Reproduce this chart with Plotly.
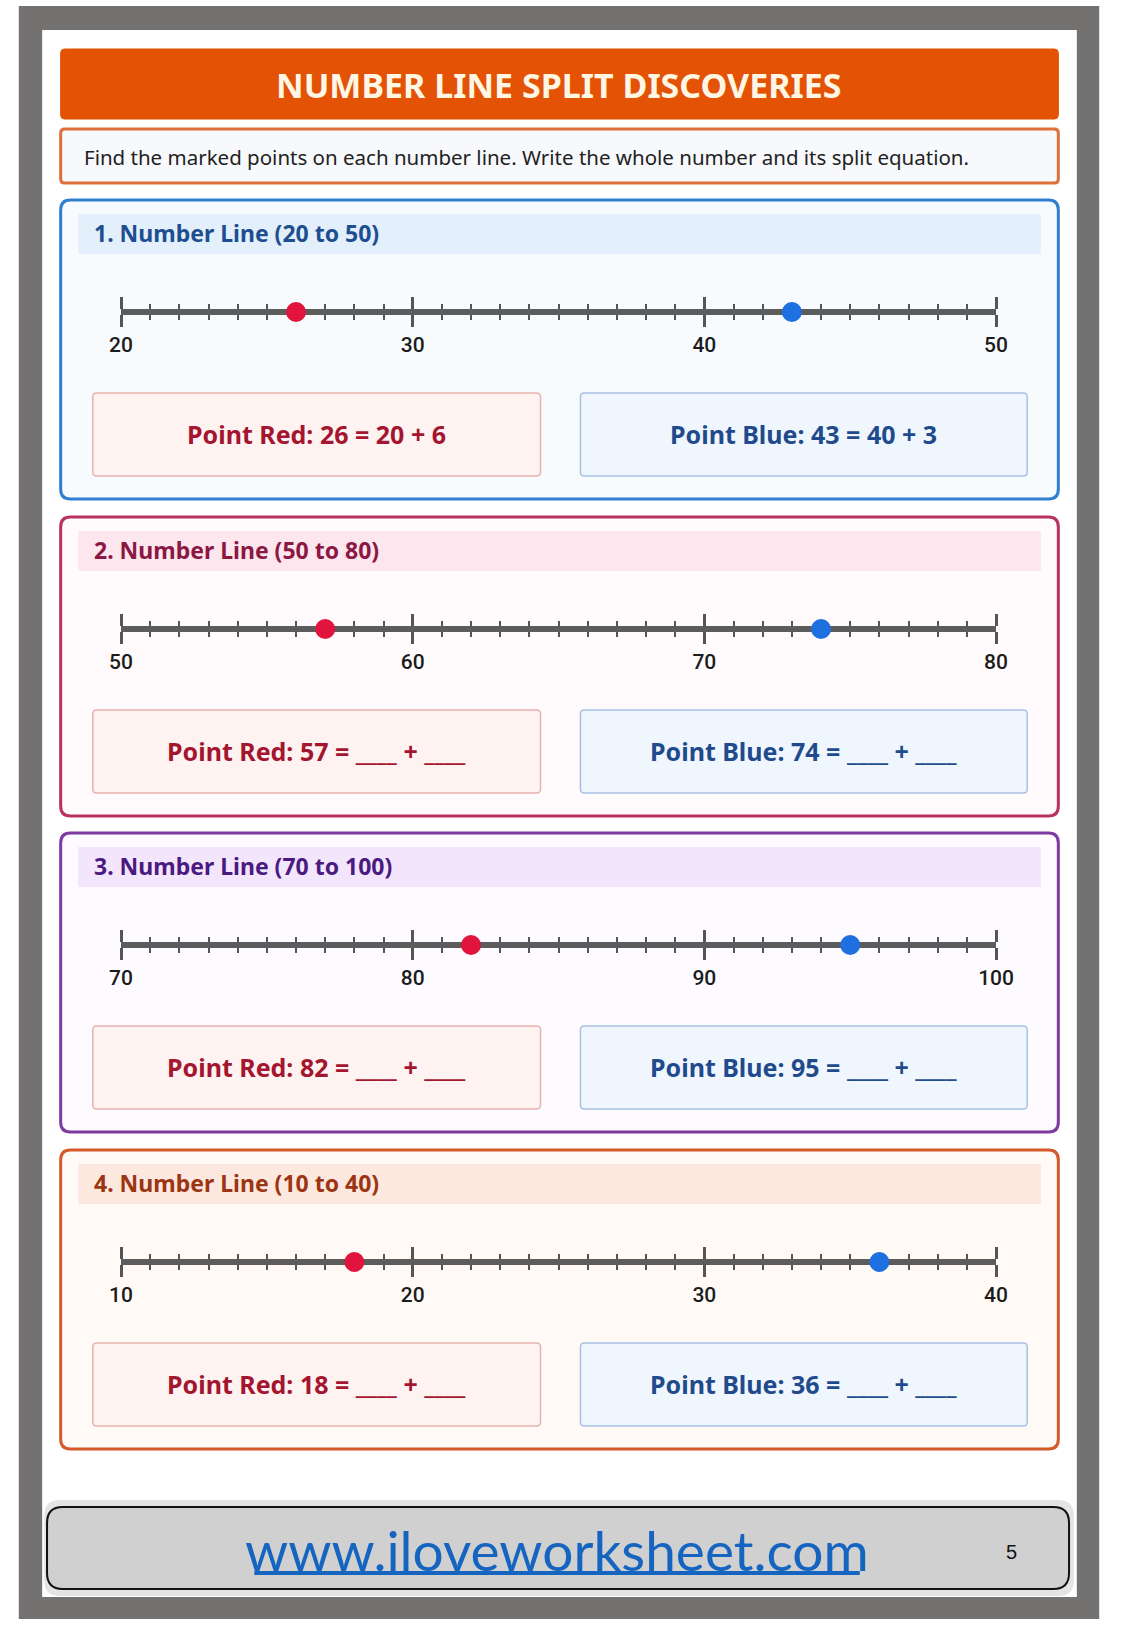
import plotly.graph_objects as go

W, H = 1125, 1625

# ----- Data -----
section_titles = ["1. Number Line (20 to 50)", "2. Number Line (50 to 80)",
                  "3. Number Line (70 to 100)", "4. Number Line (10 to 40)"]
line_starts = [20, 50, 70, 10]
line_ends = [50, 80, 100, 40]
red_points = [26, 57, 82, 18]
blue_points = [43, 74, 95, 36]
red_splits = ["20 + 6", None, None, None]
blue_splits = ["40 + 3", None, None, None]

header_text = "NUMBER LINE SPLIT DISCOVERIES"
instruction_text = "Find the marked points on each number line. Write the whole number and its split equation."
footer_url = "www.iloveworksheet.com"
page_number = "5"

# ----- Styles -----
section_tops = [200, 517, 833, 1150]
section_border = ["#2f7fd0", "#b8325f", "#7e3aa0", "#d45a2a"]
section_fill = ["#f8fbfe", "#fffafb", "#fdfbff", "#fffaf6"]
band_fill = ["#e3effb", "#fde6ee", "#f3e6fc", "#fde8df"]
title_color = ["#1d4e8f", "#8a1843", "#4b1a80", "#9c3512"]

COMIC = "Comic Sans MS, Noto Sans, sans-serif"


def X(x):
    return x / W


def Y(y):
    return 1 - y / H


def rounded_box(x0, y0, x1, y1, r, fill, line, lw):
    p = (f"M {X(x0 + r)},{Y(y0)} L {X(x1 - r)},{Y(y0)} Q {X(x1)},{Y(y0)} {X(x1)},{Y(y0 + r)} "
         f"L {X(x1)},{Y(y1 - r)} Q {X(x1)},{Y(y1)} {X(x1 - r)},{Y(y1)} "
         f"L {X(x0 + r)},{Y(y1)} Q {X(x0)},{Y(y1)} {X(x0)},{Y(y1 - r)} "
         f"L {X(x0)},{Y(y0 + r)} Q {X(x0)},{Y(y0)} {X(x0 + r)},{Y(y0)} Z")
    return dict(type="path", path=p, xref="paper", yref="paper", layer="below",
                fillcolor=fill, line=dict(color=line, width=lw))


def rect(x0, y0, x1, y1, fill, line=None, lw=0):
    return dict(type="rect", xref="paper", yref="paper", layer="below",
                x0=X(x0), x1=X(x1), y0=Y(y1), y1=Y(y0), fillcolor=fill,
                line=dict(color=line or fill, width=lw))


def label(x, y, text, size, color, family=COMIC, anchor="center", bold=False):
    if bold:
        text = f"<b>{text}</b>"
    return dict(x=X(x), y=Y(y), xref="paper", yref="paper", text=text, showarrow=False,
                xanchor=anchor, yanchor="middle", font=dict(size=size, color=color, family=family))


shapes = []
annotations = []

# page frame
shapes.append(rect(7, 6, 1117, 1619, "#747270"))
shapes.append(rect(31, 30, 1094, 1597, "#ffffff"))

# header + instructions
shapes.append(rounded_box(50, 49, 1075, 119, 4, "#e35205", "#e35205", 1))
annotations.append(label(562, 85, header_text, 34, "#fff6e3", bold=True))
shapes.append(rounded_box(50, 129, 1075, 183, 4, "#f7f9fc", "#e0703a", 3))
annotations.append(label(72, 157, instruction_text, 20.5, "#222222", anchor="left"))

fig = go.Figure()
layout_axes = {}

for i in range(4):
    top = section_tops[i]
    shapes.append(rounded_box(50, top, 1075, top + 299, 10, section_fill[i], section_border[i], 3))
    shapes.append(rect(68, top + 14, 1057, top + 54, band_fill[i]))
    annotations.append(label(82, top + 33, section_titles[i], 23, title_color[i], anchor="left", bold=True))

    # answer boxes
    shapes.append(rounded_box(83, top + 193, 543, top + 276, 4, "#fff3f2", "#e8b2ae", 1.5))
    shapes.append(rounded_box(584, top + 193, 1043, top + 276, 4, "#f0f6fd", "#a8c1e3", 1.5))
    r_split = red_splits[i] if red_splits[i] else "____ + ____"
    b_split = blue_splits[i] if blue_splits[i] else "____ + ____"
    annotations.append(label(313, top + 234, f"Point Red: {red_points[i]} = {r_split}", 25,
                             "#a4152f", bold=True))
    annotations.append(label(813, top + 234, f"Point Blue: {blue_points[i]} = {b_split}", 25,
                             "#1f4b8c", bold=True))

    # number line on its own axis
    sfx = "" if i == 0 else str(i + 1)
    yl = top + 112
    layout_axes["xaxis" + sfx] = dict(
        domain=[X(112), X(1011)], anchor="y" + sfx, range=[line_starts[i], line_ends[i]],
        tickmode="linear", tick0=line_starts[i], dtick=10,
        ticks="outside", ticklen=12, tickwidth=3, tickcolor="#555555",
        showline=True, linewidth=2.5, linecolor="#5c5c5c", mirror="ticks",
        showgrid=False, zeroline=False, layer="below traces", fixedrange=True,
        minor=dict(dtick=1, ticks="outside", ticklen=5, tickwidth=1.5, tickcolor="#555555", showgrid=False),
        tickfont=dict(family="Roboto, Arial", size=21, color="#1c1c1c", weight=500),
    )
    layout_axes["yaxis" + sfx] = dict(
        domain=[Y(yl) - 0.0002, Y(yl) + 0.0002], anchor="x" + sfx, range=[-1, 1],
        visible=False, fixedrange=True,
    )
    fig.add_trace(go.Scatter(
        x=[red_points[i], blue_points[i]], y=[0, 0], mode="markers",
        marker=dict(size=20, color=["#e0143c", "#1e6fe0"]),
        cliponaxis=False, showlegend=False, hoverinfo="x",
        xaxis="x" + sfx, yaxis="y" + sfx,
    ))

# footer
shapes.append(rounded_box(33, 1500, 1091, 1596, 16, "#e4e4e4", "#e4e4e4", 0))
shapes.append(rounded_box(36, 1507, 1086, 1589, 16, "#d0d0d0", "#111111", 2))
annotations.append(label(560, 1550, footer_url, 55, "#1565c0", family="Lato, Open Sans, sans-serif"))
shapes.append(dict(type="line", xref="paper", yref="paper", layer="above",
                   x0=X(249), x1=X(871), y0=Y(1573), y1=Y(1573),
                   line=dict(color="#1565c0", width=4)))
annotations.append(label(1027, 1552, page_number, 20, "#111111", family="Liberation Sans Narrow, Arial"))

fig.update_layout(
    width=W, height=H,
    margin=dict(l=0, r=0, t=0, b=0),
    paper_bgcolor="#ffffff",
    plot_bgcolor="rgba(0,0,0,0)",
    showlegend=False,
    shapes=shapes,
    annotations=annotations,
    **layout_axes,
)

fig.write_html("out.html", config={"displayModeBar": False},
               post_script="document.body.style.margin='0';")
